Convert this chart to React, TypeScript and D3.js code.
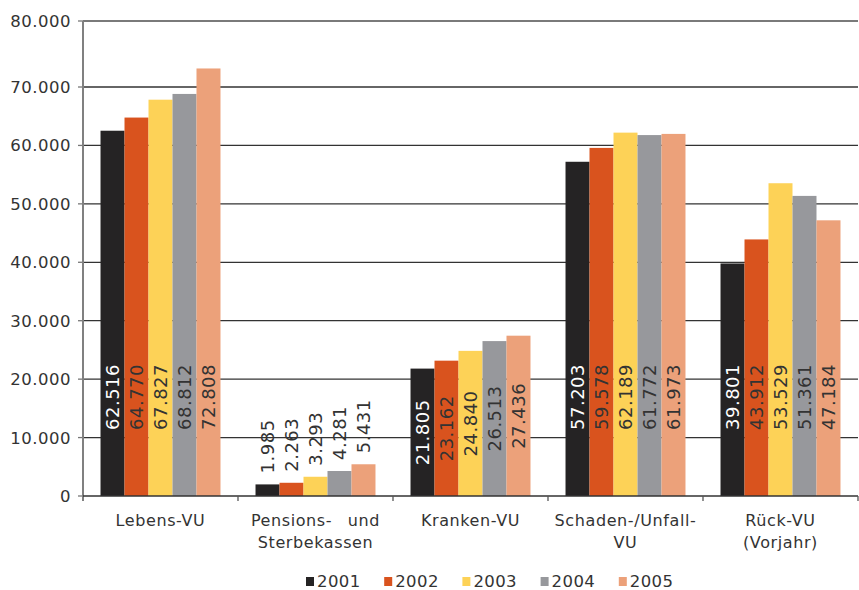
import React from "react";
import * as d3 from "d3";

const categories: string[][] = [
  ["Lebens-VU"],
  ["Pensions- und", "Sterbekassen"],
  ["Kranken-VU"],
  ["Schaden-/Unfall-", "VU"],
  ["Rück-VU", "(Vorjahr)"],
];
const years = ["2001", "2002", "2003", "2004", "2005"];
const values2001 = [62516, 1985, 21805, 57203, 39801];
const values2002 = [64770, 2263, 23162, 59578, 43912];
const values2003 = [67827, 3293, 24840, 62189, 53529];
const values2004 = [68812, 4281, 26513, 61772, 51361];
const values2005 = [72808, 5431, 27436, 61973, 47184];
const series = [values2001, values2002, values2003, values2004, values2005];
const colors = ["#252324", "#d9531e", "#fdd257", "#97989c", "#eca17a"];
const labelColors = ["#ffffff", "#333333", "#333333", "#333333", "#333333"];
const yTicks = [0, 10000, 20000, 30000, 40000, 50000, 60000, 70000, 80000];

const W = 859;
const H = 590;
const left = 83;
const right = 858;
const base = 496;

const de = d3.formatLocale({ decimal: ",", thousands: ".", grouping: [3], currency: ["", "€"] });
const fmt = de.format(",d");

export default function App() {
  const y = d3.scaleLinear().domain([0, 70000, 80000]).range([base, 87, 21]);
  const keys = categories.map((c) => c.join(" "));
  const x0 = d3.scaleBand<string>().domain(keys).range([left, right]);
  const x1 = d3
    .scaleBand<string>()
    .domain(years)
    .range([0, x0.bandwidth()])
    .paddingOuter(0.73);
  const font = "'DejaVu Sans', Verdana, sans-serif";
  return (
    <svg
      width={W}
      height={H}
      style={{ position: "absolute", left: 0, top: 0, background: "#fff" }}
      fontFamily={font}
    >
      {/* gridlines */}
      {yTicks.map((t) => (
        <g key={t}>
          {t > 0 && (
            <line
              x1={left}
              x2={right}
              y1={y(t)}
              y2={y(t)}
              stroke={t === 80000 ? "#7a7a7a" : "#333"}
              strokeWidth={t === 80000 ? 2 : 1.3}
            />
          )}
          <line x1={left - 5} x2={left} y1={y(t)} y2={y(t)} stroke="#777" strokeWidth={1.3} />
          <text
            x={71}
            y={y(t)}
            dy={6}
            textAnchor="end"
            fontSize={16.5}
            letterSpacing={0.5}
            fill="#333"
          >
            {fmt(t)}
          </text>
        </g>
      ))}
      {/* bars */}
      {keys.map((k, ci) => (
        <g key={k} transform={`translate(${x0(k)},0)`}>
          {years.map((yr, si) => {
            const v = series[si][ci];
            const bx = x1(yr)!;
            const bw = x1.bandwidth();
            return (
              <rect key={yr} x={bx} y={y(v)} width={bw} height={base - y(v)} fill={colors[si]} />
            );
          })}
        </g>
      ))}
      {/* axes */}
      <line x1={left} x2={left} y1={21} y2={base + 5} stroke="#808080" strokeWidth={2} />
      <line x1={left} x2={right} y1={base} y2={base} stroke="#333" strokeWidth={1.5} />
      {keys.map((k) => (
        <line
          key={k}
          x1={x0(k)! + x0.bandwidth()}
          x2={x0(k)! + x0.bandwidth()}
          y1={base}
          y2={base + 5}
          stroke="#555"
          strokeWidth={1.3}
        />
      ))}
      {/* data labels */}
      {keys.map((k, ci) => (
        <g key={k} transform={`translate(${x0(k)},0)`}>
          {years.map((yr, si) => {
            const v = series[si][ci];
            const cx = x1(yr)! + x1.bandwidth() / 2;
            const outside = v < 10000;
            const ly = outside ? y(v) - 11 : Math.max(y(v / 2), 397);
            return (
              <text
                key={yr}
                transform={`translate(${cx},${ly}) rotate(-90)`}
                textAnchor={outside ? "start" : "middle"}
                dominantBaseline="central"
                fontSize={18}
                letterSpacing={0.5}
                fill={outside ? "#333" : labelColors[si]}
              >
                {fmt(v)}
              </text>
            );
          })}
        </g>
      ))}
      {/* category labels */}
      {categories.map((lines, ci) => (
        <text
          key={ci}
          x={x0(keys[ci])! + x0.bandwidth() / 2}
          y={526}
          textAnchor="middle"
          fontSize={16}
          letterSpacing={0.6}
          fill="#333"
        >
          {lines.map((l, li) => (
            <tspan
              key={li}
              x={x0(keys[ci])! + x0.bandwidth() / 2}
              dy={li === 0 ? 0 : 22}
              wordSpacing={l === "Pensions- und" ? 10 : 0}
            >
              {l}
            </tspan>
          ))}
        </text>
      ))}
      {/* legend */}
      {years.map((yr, i) => {
        const lx = 306 + i * 78.2;
        return (
          <g key={yr}>
            <rect x={lx} y={577} width={8} height={9} fill={colors[i]} />
            <text x={lx + 11} y={587} fontSize={16.5} letterSpacing={0.4} fill="#333">
              {yr}
            </text>
          </g>
        );
      })}
    </svg>
  );
}
